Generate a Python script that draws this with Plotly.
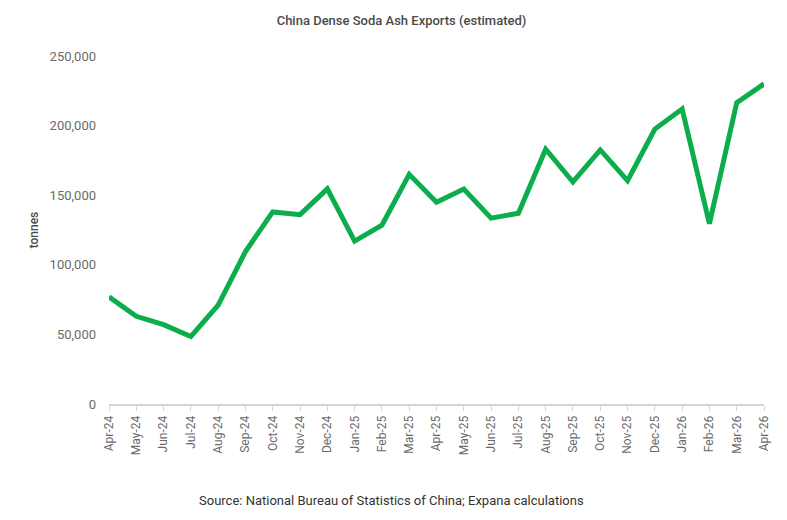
import plotly.graph_objects as go

# monthly dense soda ash exports, tonnes (estimated)
months = ["Apr-24", "May-24", "Jun-24", "Jul-24", "Aug-24", "Sep-24", "Oct-24",
          "Nov-24", "Dec-24", "Jan-25", "Feb-25", "Mar-25", "Apr-25", "May-25",
          "Jun-25", "Jul-25", "Aug-25", "Sep-25", "Oct-25", "Nov-25", "Dec-25",
          "Jan-26", "Feb-26", "Mar-26", "Apr-26"]
exports = [77000, 63000, 57000, 48500, 71000, 109500, 138000,
           136000, 154500, 117000, 128500, 165000, 145000, 154500,
           133500, 137000, 183000, 159500, 182500, 160500, 197500,
           212000, 129500, 216500, 230000]

y_ticks = [0, 50000, 100000, 150000, 200000, 250000]

FONT = "Roboto"
GREY = "#6b6b6b"


def build_figure():
    fig = go.Figure(go.Scatter(
        x=months, y=exports, mode="lines",
        line=dict(color="#0bae4b", width=5),
        hoverinfo="x+y",
    ))
    return fig


# page body has an 8px margin, so margins are shifted by that
def customize_layout(fig):
    fig.update_layout(
        width=787, height=520,
        margin=dict(l=101, r=31, t=48, b=124),
        paper_bgcolor="white", plot_bgcolor="white",
        showlegend=False,
        font=dict(family=FONT, size=13, color=GREY),
        title=dict(
            text="China Dense Soda Ash Exports (estimated)",
            x=0.5, xanchor="center", y=0.977, yanchor="middle",
            font=dict(family=FONT, size=13, color="#4a4a4a", weight=500),
        ),
    )
    fig.update_xaxes(
        type="category", range=[0, len(months) - 1],
        showgrid=False, showline=True, linecolor="#d4d4d4", linewidth=2,
        ticks="outside", ticklen=5, tickcolor="#d4d4d4", tickwidth=1,
        tickangle=-90, tickfont=dict(size=12, color=GREY),
    )
    fig.update_yaxes(
        range=[0, 250000], tickvals=y_ticks,
        tickformat=",", showgrid=False, zeroline=False, showline=False,
        ticklabelstandoff=12,
        tickfont=dict(size=13, color=GREY),
        title=dict(text="tonnes", standoff=8,
                   font=dict(family=FONT, size=12, color="#4a4a4a", weight=500)),
    )
    fig.add_annotation(
        text="Source: National Bureau of Statistics of China; Expana calculations",
        xref="paper", yref="paper", x=0.432, y=-0.276, yanchor="middle",
        showarrow=False, font=dict(family=FONT, size=13, color="#333333"),
    )
    return fig


fig = build_figure()
fig = customize_layout(fig)
fig.write_html("out.html")
